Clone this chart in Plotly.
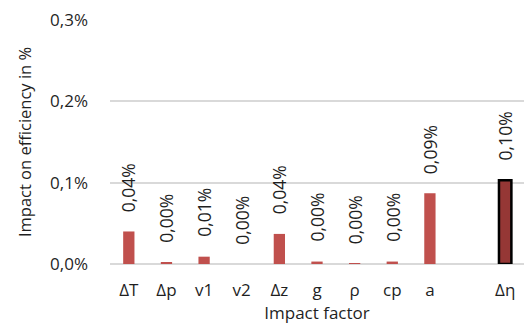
import plotly.graph_objects as go

factors = ["ΔT", "Δp", "v1", "v2", "Δz", "g", "ρ", "cp", "a"]
factor_values = [0.040, 0.002, 0.009, 0.0, 0.037, 0.003, 0.0005, 0.003, 0.087]
factor_labels = ["0,04%", "0,00%", "0,01%", "0,00%", "0,04%", "0,00%", "0,00%", "0,00%", "0,09%"]
total_name = "Δη"
total_value = 0.103
total_label = "0,10%"
y_ticks = [0.0, 0.1, 0.2, 0.3]
y_ticklabels = ["0,0%", "0,1%", "0,2%", "0,3%"]

FONT = "Open Sans"
TXT = "#1f1f1f"
FS = 17

factor_x = list(range(len(factors)))
total_x = len(factors) + 1

fig = go.Figure()
fig.add_trace(go.Bar(x=factor_x, y=factor_values, width=0.3,
                     marker=dict(color="#C0504D", line=dict(width=0)),
                     hoverinfo="skip", showlegend=False))
fig.add_trace(go.Bar(x=[total_x], y=[total_value], width=0.33,
                     marker=dict(color="#953735", line=dict(color="black", width=2.5)),
                     hoverinfo="skip", showlegend=False))

for xv, yv, lab in list(zip(factor_x, factor_values, factor_labels)) + [(total_x, total_value, total_label)]:
    fig.add_annotation(x=xv, y=yv, text=lab, textangle=-90, showarrow=False,
                       xanchor="center", yanchor="middle", yshift=44,
                       font=dict(family=FONT, size=FS + 0.5, color=TXT))

fig.update_layout(
    width=524, height=331,
    margin=dict(l=110, r=0, t=20, b=67),
    paper_bgcolor="white", plot_bgcolor="white",
    font=dict(family=FONT, size=FS, color=TXT),
)
fig.update_xaxes(range=[-0.5, total_x + 0.5], automargin=False,
                 tickvals=factor_x + [total_x], ticktext=factors + [total_name],
                 showgrid=False, zeroline=False, showline=False, ticks="",
                 ticklabelstandoff=14,
                 tickfont=dict(family=FONT, size=FS, color=TXT),
                 title=dict(text="Impact factor", font=dict(family=FONT, size=FS, color=TXT), standoff=5))
fig.update_yaxes(range=[0, 0.3], tickvals=y_ticks, ticktext=y_ticklabels, automargin=False,
                 showgrid=True, gridcolor="#D9D9D9", gridwidth=1.5,
                 zeroline=True, zerolinecolor="#D9D9D9", zerolinewidth=1.5,
                 ticks="", ticklabelstandoff=21,
                 tickfont=dict(family=FONT, size=FS, color=TXT),
                 title=dict(text="Impact on efficiency in %", font=dict(family=FONT, size=16.5, color=TXT), standoff=14))

fig.write_html("out.html", config={"displayModeBar": False},
               post_script="document.body.style.margin='0';document.body.style.overflow='hidden';")
